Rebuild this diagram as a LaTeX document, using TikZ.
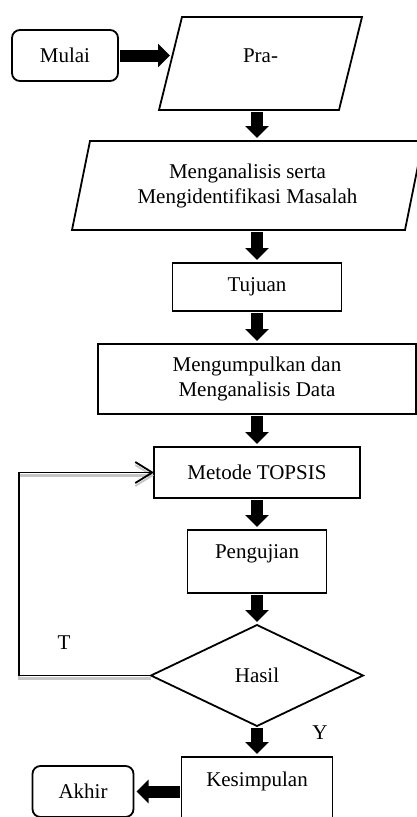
\documentclass[tikz,border=0pt]{standalone}
\usepackage{fontspec}
\setmainfont{Liberation Serif}
\usepackage{tikz}
\usetikzlibrary{shapes.geometric, arrows.meta, positioning, calc}

\begin{document}
\begin{tikzpicture}[
  every node/.style = {font=\fontsize{21}{25}\selectfont, outer sep=0pt},
  % node styles
  terminal/.style = {rectangle, rounded corners=8pt, draw, line width=1.8pt,
                     minimum width=106pt, minimum height=51pt, align=center},
  proses/.style   = {rectangle, draw, line width=1.8pt, align=center},
  data/.style     = {rectangle, align=center},
  keputusan/.style = {diamond, draw, line width=1.8pt, aspect=2.1,
                      minimum width=212pt, minimum height=101pt, inner sep=0pt},
  raised/.style   = {text depth=#1},
  garis/.style    = {line width=1.8pt, line join=miter},
  % arrow styles
  blk/.style  = {line width=12pt, -{Triangle[length=12pt, width=23pt]},
                 shorten <=2pt, shorten >=3pt},
  balik/.style = {line width=1.8pt, -{Straight Barb[length=17pt, width=21pt, line width=1.8pt]},
                  preaction={draw=gray!45, line width=2.5pt, transform canvas={yshift=-3pt}}},
]

\useasboundingbox (0,0) rectangle (417pt,-817pt);
\clip (0,0) rectangle (417pt,-817pt);

%% Top: start and first input
\node[data, minimum width=203pt, minimum height=93pt, raised=15pt]
      (pra) at (260.5pt,-63.5pt) {Pra-};
\node[terminal, left=41pt of pra, yshift=8pt] (mulai) {Mulai};

%% Main column
\node[data, minimum width=351pt, minimum height=89pt, below=31pt of pra, xshift=-13pt]
      (analisis) {Menganalisis serta\\Mengidentifikasi Masalah};
\node[proses, minimum width=169pt, minimum height=48pt,
      below=33pt of analisis, xshift=9.5pt] (tujuan) {Tujuan};
\node[proses, minimum width=318pt, minimum height=70pt,
      below=33pt of tujuan] (kumpul) {Mengumpulkan dan\\Menganalisis Data};
\node[proses, minimum width=206pt, minimum height=51pt,
      below=33pt of kumpul] (topsis) {Metode TOPSIS};
\node[proses, minimum width=139pt, minimum height=63pt, raised=19pt,
      below=32pt of topsis] (uji) {Pengujian};
\node[keputusan, below=32pt of uji] (hasil) {Hasil};
\node[proses, minimum width=151pt, minimum height=61pt, raised=17pt,
      below=31pt of hasil] (simpul) {Kesimpulan};
\node[terminal, minimum width=101pt, left=48pt of simpul, yshift=-4pt] (akhir) {Akhir};

%% Parallelogram outlines of the input nodes
\draw[garis] ($(pra.north west)+(23pt,0)$) -- (pra.north east)
  -- ($(pra.south east)+(-23pt,0)$) -- (pra.south west) -- cycle;
\draw[garis] ($(analisis.north west)+(18pt,0)$) -- (analisis.north east)
  -- ($(analisis.south east)+(-18pt,0)$) -- (analisis.south west) -- cycle;

%% Branch labels
\node (tidak) at ($(hasil.west)+(-87pt,33pt)$) {T};
\node (ya)    at ($(hasil.south)+(63pt,-7pt)$) {Y};

%% Block arrows
\draw[blk, shorten >=-11pt] (mulai.east) -- (mulai.east -| pra.west);
\draw[blk] (pra.south -| tujuan.north)      -- (analisis.north -| tujuan.north);
\draw[blk] (analisis.south -| tujuan.north) -- (tujuan.north);
\draw[blk] (tujuan)  -- (kumpul);
\draw[blk] (kumpul)  -- (topsis);
\draw[blk] (topsis)  -- (uji);
\draw[blk] (uji)     -- (hasil);
\draw[blk] (hasil)   -- (simpul);
\draw[blk] (simpul.west |- akhir.east) -- (akhir.east);

%% Loop back when the result fails
\draw[balik] (hasil.west) -- ++(-132pt,0) |- (topsis.west);

\end{tikzpicture}
\end{document}
